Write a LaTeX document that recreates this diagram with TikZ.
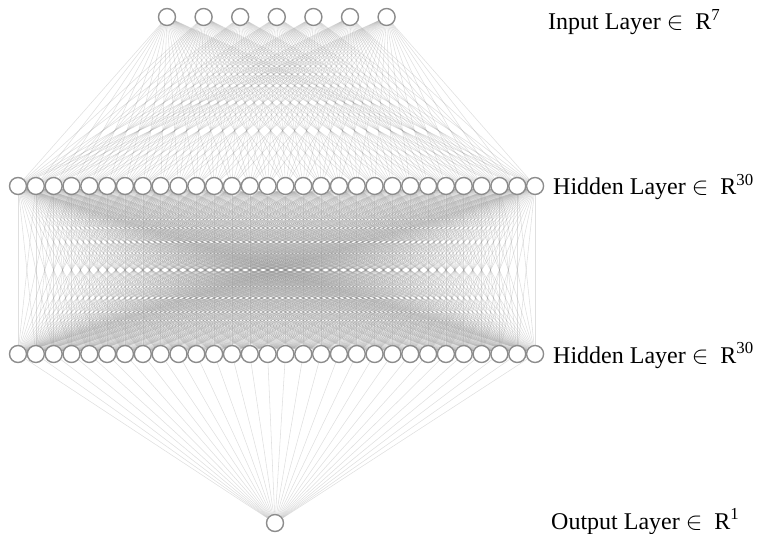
\documentclass[tikz,border=0pt]{standalone}
\usepackage{fontspec}
\setmainfont{Liberation Serif}
\usetikzlibrary{backgrounds}
\begin{document}
\begin{tikzpicture}[x=1pt, y=-1pt,
    neuron/.style={circle, draw=black!45, line width=1.4pt, fill=white, inner sep=0pt, minimum size=17pt},
    edge/.style={black!45, line width=0.55pt, opacity=0.28},
    layer/.style={anchor=base west, inner sep=0pt, font=\fontsize{24}{28}\selectfont}]
  \useasboundingbox (0,0) rectangle (760,534);
  % neurons
  \foreach \i in {1,...,7}
    \node[neuron] (I\i) at ({167+36.6*(\i-1)},17) {};
  \foreach \j in {1,...,30} {
    \node[neuron] (A\j) at ({18+17.83*(\j-1)},186) {};
    \node[neuron] (B\j) at ({18+17.83*(\j-1)},354) {};
  }
  \node[neuron] (O) at (275,523) {};
  % layer names
  \node[layer] (Lin) at (548,30) {Input Layer $\in$\ \ R\textsuperscript{7}};
  \node[layer] (LA) at (553,195) {Hidden Layer $\in$\ \ R\textsuperscript{30}};
  \node[layer] (LB) at (553,363) {Hidden Layer $\in$\ \ R\textsuperscript{30}};
  \node[layer] (Lout) at (551,529) {Output Layer $\in$\ \ R\textsuperscript{1}};
  % weights
  \begin{scope}[on background layer]
    \foreach \i in {1,...,7}
      \foreach \j in {1,...,30}
        \draw[edge] (I\i) -- (A\j);
    \foreach \j in {1,...,30} {
      \foreach \k in {1,...,30}
        \draw[edge] (A\j) -- (B\k);
      \draw[edge] (B\j) -- (O);
    }
  \end{scope}
\end{tikzpicture}
\end{document}
